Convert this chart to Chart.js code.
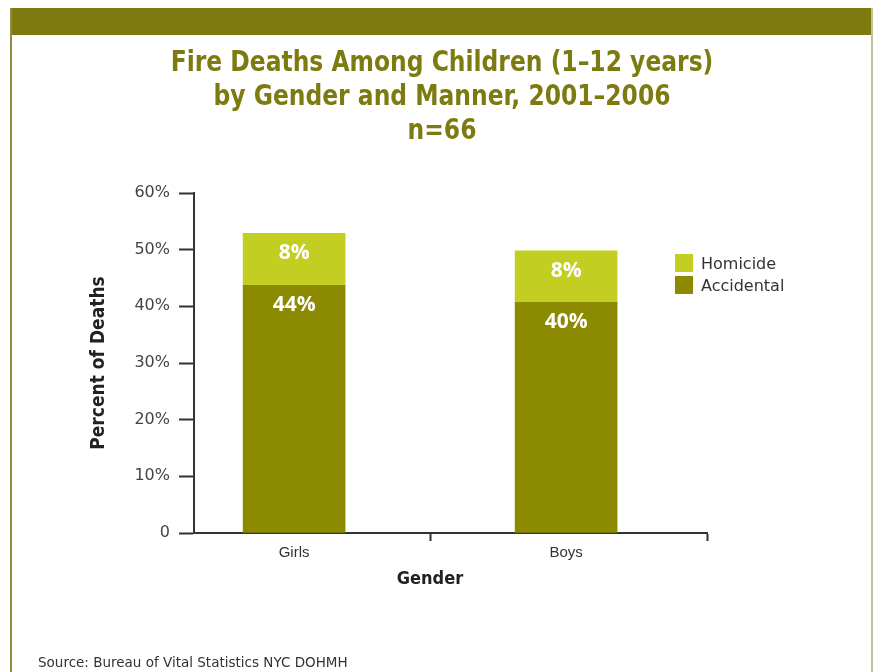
<!DOCTYPE html>
<html>
<head>
<meta charset="utf-8">
<script src="https://cdn.jsdelivr.net/npm/chart.js@4/dist/chart.umd.min.js"></script>
<style>
  body { margin: 0; background: #fff; width: 877px; height: 672px; position: relative; overflow: hidden; }
  #band { position: absolute; left: 10px; top: 8px; width: 863px; height: 27px; background: #7f7a10; }
  #lborder { position: absolute; left: 10px; top: 8px; width: 2px; height: 664px; background: #8f8c40; }
  #rborder { position: absolute; left: 871px; top: 8px; width: 2px; height: 664px; background: #c4c194; }
  #chart { position: absolute; left: 0; top: 0; }
  #title { position: absolute; left: 42px; width: 800px; top: 45px; text-align: center;
           font: bold 28px/34px 'DejaVu Sans Condensed', sans-serif; color: #7d7a10;
           transform: scaleX(0.93); transform-origin: 400px 0; }
  #xtitle { position: absolute; left: 330px; width: 200px; top: 566px; text-align: center;
            font: bold 18px/24px 'DejaVu Sans Condensed', sans-serif; color: #222; }
  #legend { position: absolute; left: 675px; top: 252px; font: 16px 'DejaVu Sans', sans-serif; color: #333; }
  #legend .row { display: flex; align-items: center; height: 22px; }
  #legend .box { width: 18px; height: 18px; margin-right: 8px; }
  #source { position: absolute; left: 38px; top: 654px; font: 13.5px 'DejaVu Sans', sans-serif; color: #333; }
</style>
</head>
<body>
<div id="band"></div>
<div id="lborder"></div>
<div id="rborder"></div>
<canvas id="chart" width="877" height="672"></canvas>
<div id="title">Fire Deaths Among Children (1&ndash;12 years)<br>by Gender and Manner, 2001&ndash;2006<br>n=66</div>
<div id="xtitle">Gender</div>
<div id="legend"></div>
<div id="source">Source: Bureau of Vital Statistics NYC DOHMH</div>
<script>
// values (percent of deaths)
const categories = ['Girls', 'Boys'];
const accidental = [43.7, 40.7];
const homicide = [9.2, 9.1];
// printed labels on the bars
const accidentalLabels = ['44%', '40%'];
const homicideLabels = ['8%', '8%'];
const yTicks = [0, 10, 20, 30, 40, 50, 60];

const olive = '#8b8a00';
const lime = '#c2cf22';
const condensed = "'DejaVu Sans Condensed', sans-serif";

// legend (top entry first, like the reference)
const legendItems = [
    { label: 'Homicide', color: lime },
    { label: 'Accidental', color: olive }
];
document.getElementById('legend').innerHTML = legendItems.map(it =>
    `<div class="row"><div class="box" style="background:${it.color}"></div>${it.label}</div>`
).join('');

// x range in category units: bars sit at 0 and 1
const xMin = -0.368, xMax = 1.518;

const barLabels = {
    id: 'barLabels',
    afterDatasetsDraw(chart) {
        const ctx = chart.ctx;
        ctx.save();
        ctx.fillStyle = '#fff';
        ctx.font = "bold 21px 'Open Sans', sans-serif";
        ctx.textAlign = 'center';
        ctx.textBaseline = 'middle';
        chart.data.datasets.forEach((ds, i) => {
            chart.getDatasetMeta(i).data.forEach((bar, j) => {
                ctx.fillText(ds.printed[j], bar.x, bar.y + 20);
            });
        });
        ctx.restore();
    }
};

new Chart(document.getElementById('chart'), {
    type: 'bar',
    data: {
        datasets: [
            {
                label: 'Accidental',
                data: accidental.map((v, i) => ({ x: i, y: v })),
                printed: accidentalLabels,
                backgroundColor: olive
            },
            {
                label: 'Homicide',
                data: homicide.map((v, i) => ({ x: i, y: v })),
                printed: homicideLabels,
                backgroundColor: lime
            }
        ]
    },
    options: {
        responsive: false,
        animation: false,
        barThickness: 102,
        layout: { padding: { left: 88, right: 170, top: 193, bottom: 80 } },
        plugins: {
            legend: { display: false },
            tooltip: { enabled: false },
            title: { display: false }
        },
        scales: {
            x: {
                type: 'linear',
                stacked: true,
                min: xMin,
                max: xMax,
                offset: false,
                afterBuildTicks: s => { s.ticks = [0, 0.5, 1, xMax].map(v => ({ value: v })); },
                afterFit: s => { s.height = 59; },
                grid: {
                    offset: false,
                    drawOnChartArea: false,
                    drawTicks: true,
                    tickLength: 8,
                    tickWidth: 2,
                    tickColor: c => Number.isInteger(c.tick.value) ? 'rgba(0,0,0,0)' : '#333'
                },
                border: { display: true, color: '#333', width: 2 },
                ticks: {
                    autoSkip: false,
                    maxRotation: 0,
                    padding: 3,
                    color: '#333',
                    font: { family: "'Liberation Sans', sans-serif", size: 15 },
                    callback: v => categories[v] ?? ''
                }
            },
            y: {
                stacked: true,
                min: 0,
                max: 60,
                afterBuildTicks: s => { s.ticks = yTicks.map(v => ({ value: v })); },
                afterFit: s => { s.width = 106; },
                grid: {
                    drawOnChartArea: false,
                    drawTicks: true,
                    tickLength: 15,
                    tickWidth: 2,
                    tickColor: '#333'
                },
                border: { display: true, color: '#333', width: 2 },
                ticks: {
                    padding: 9,
                    color: '#444',
                    font: { family: "'DejaVu Sans', sans-serif", size: 16 },
                    callback: v => v === 0 ? '0' : v + '%'
                },
                title: {
                    display: true,
                    text: 'Percent of Deaths',
                    color: '#222',
                    font: { family: condensed, size: 19, weight: 'bold' },
                    padding: { top: 0, bottom: 0 }
                }
            }
        }
    },
    plugins: [barLabels]
});
</script>
</body>
</html>
